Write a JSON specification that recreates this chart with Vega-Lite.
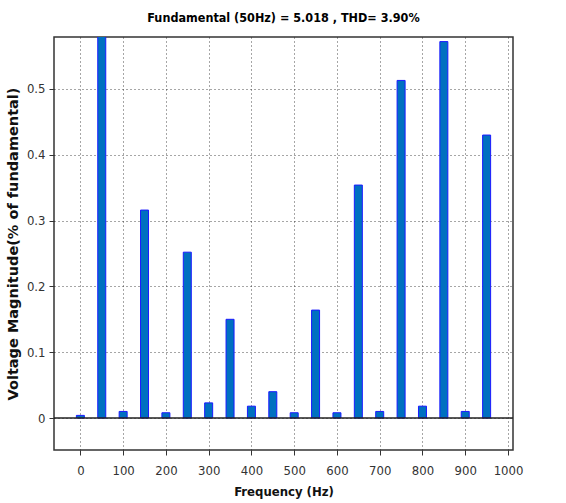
{
  "$schema": "https://vega.github.io/schema/vega-lite/v6.json",
  "width": 459,
  "height": 413,
  "autosize": "none",
  "padding": {"left": 54, "top": 37, "right": 53, "bottom": 53},
  "background": "white",
  "title": {"text": "Fundamental (50Hz) = 5.018 , THD= 3.90%", "font": "DejaVu Sans Condensed", "fontSize": 12.5, "fontWeight": "bold", "color": "#000", "offset": 13, "anchor": "middle"},
  "config": {
    "view": {"stroke": "#333", "strokeWidth": 1.5},
    "axis": {"labelFont": "DejaVu Sans Condensed", "labelFontSize": 13, "labelColor": "#333", "titleFont": "DejaVu Sans", "titleFontSize": 13, "titleFontWeight": "bold", "titleColor": "#111", "gridColor": "#222", "gridDash": [1, 3], "gridOpacity": 0.8, "domain": false, "tickColor": "#333", "tickSize": 5}
  },
  "data": {"values": [
    {"f": 0, "v": 0.004}, {"f": 50, "v": 100}, {"f": 100, "v": 0.01}, {"f": 150, "v": 0.316},
    {"f": 200, "v": 0.008}, {"f": 250, "v": 0.252}, {"f": 300, "v": 0.023}, {"f": 350, "v": 0.15},
    {"f": 400, "v": 0.018}, {"f": 450, "v": 0.04}, {"f": 500, "v": 0.008}, {"f": 550, "v": 0.164},
    {"f": 600, "v": 0.008}, {"f": 650, "v": 0.354}, {"f": 700, "v": 0.01}, {"f": 750, "v": 0.513},
    {"f": 800, "v": 0.018}, {"f": 850, "v": 0.572}, {"f": 900, "v": 0.01}, {"f": 950, "v": 0.43}
  ]},
  "layer": [
    {
      "mark": {"type": "bar", "size": 8, "fill": "#0070C0", "stroke": "#1a1aff", "strokeWidth": 1, "clip": true, "orient": "vertical"},
      "encoding": {
        "x": {"field": "f", "type": "quantitative", "scale": {"domain": [-50, 1000], "nice": false, "zero": false}, "axis": {"values": [0,100,200,300,400,500,600,700,800,900,1000], "format": "d", "title": "Frequency (Hz)", "titleFont": "DejaVu Sans Condensed", "labelPadding": 9, "titlePadding": 8, "grid": true}},
        "y": {"field": "v", "type": "quantitative", "scale": {"domain": [-0.0486, 0.579], "nice": false, "zero": false}, "axis": {"values": [0, 0.1, 0.2, 0.3, 0.4, 0.5], "format": "~g", "title": "Voltage Magnitude(% of fundamental)", "titleFontSize": 14.5, "labelPadding": 4, "titlePadding": 6, "grid": true}}
      }
    },
    {
      "data": {"values": [{"z": 0}]},
      "mark": {"type": "rule", "color": "#222", "strokeWidth": 1.3},
      "encoding": {"y": {"field": "z", "type": "quantitative"}}
    }
  ]
}
